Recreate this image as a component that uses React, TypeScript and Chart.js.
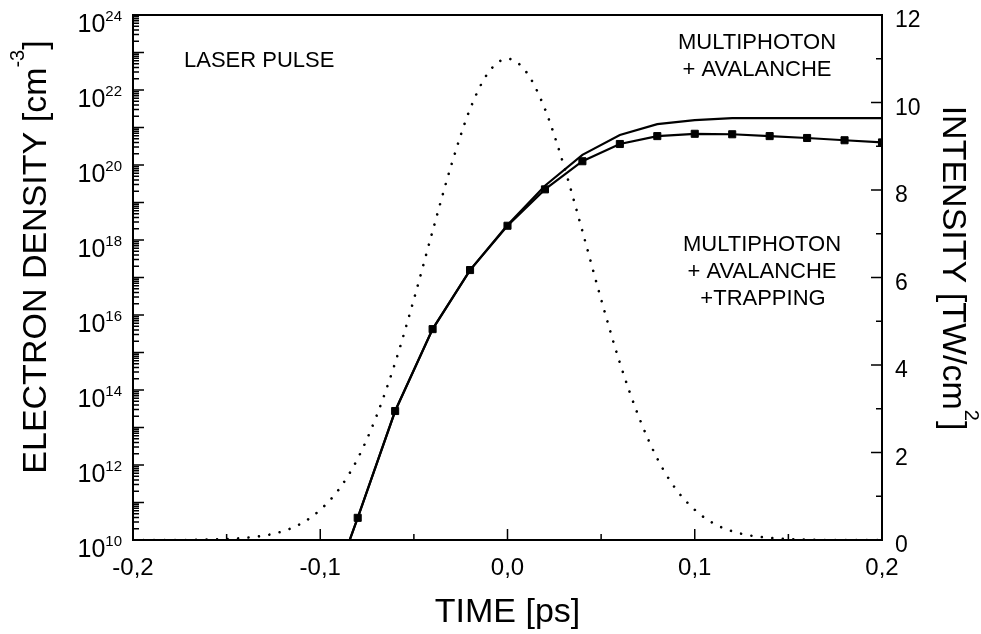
import React, { useEffect, useRef } from 'react';
import { Chart, registerables } from 'chart.js';

Chart.register(...registerables);

// Laser pulse intensity [TW/cm^2] (dotted, right axis)
const pulseTime = [
  -0.2, -0.19, -0.18, -0.17, -0.16, -0.15, -0.14, -0.13, -0.12, -0.11, -0.1,
  -0.09, -0.08, -0.07, -0.06, -0.05, -0.04, -0.03, -0.02, -0.01, 0,
  0.01, 0.02, 0.03, 0.04, 0.05, 0.06, 0.07, 0.08, 0.09, 0.1,
  0.11, 0.12, 0.13, 0.14, 0.15, 0.16, 0.17, 0.18, 0.19, 0.2,
];
const pulseIntensity = [
  0, 0, 0, 0, 0.01, 0.02, 0.05, 0.1, 0.2, 0.38, 0.69,
  1.16, 1.86, 2.83, 4.05, 5.5, 7.06, 8.57, 9.85, 10.7, 11,
  10.7, 9.85, 8.57, 7.06, 5.5, 4.05, 2.83, 1.86, 1.16, 0.69,
  0.38, 0.2, 0.1, 0.05, 0.02, 0.01, 0, 0, 0, 0,
];

// Electron density [cm^-3] (left, log axis)
const densityTime = [
  -0.09, -0.08, -0.06, -0.04, -0.02, 0, 0.02, 0.04, 0.06, 0.08, 0.1, 0.12, 0.14, 0.16, 0.18, 0.2,
];
const densityAvalanche = [
  1.6e9, 3.9e10, 2.75e13, 4.2e15, 1.58e17, 2.5e18, 2.8e19, 1.86e20, 6.3e20, 1.23e21, 1.58e21,
  1.78e21, 1.78e21, 1.78e21, 1.78e21, 1.78e21,
];
const densityTrapping = [
  1.6e9, 3.9e10, 2.75e13, 4.2e15, 1.58e17, 2.4e18, 2.24e19, 1.26e20, 3.63e20, 5.9e20, 6.8e20,
  6.6e20, 5.9e20, 5.25e20, 4.57e20, 4.0e20,
];

// Tick label values
const xTickValues = [-0.2, -0.1, 0, 0.1, 0.2];
const leftTickExponents = [10, 12, 14, 16, 18, 20, 22, 24];
const rightTickValues = [0, 2, 4, 6, 8, 10, 12];

const FONT = '"Liberation Sans", Arial, Helvetica, sans-serif';

type Part = { t: string; s: number; rise?: number };

function measureParts(ctx: CanvasRenderingContext2D, parts: Part[]) {
  let w = 0;
  for (const p of parts) {
    ctx.font = `${p.s}px ${FONT}`;
    w += ctx.measureText(p.t).width;
  }
  return w;
}

function drawParts(ctx: CanvasRenderingContext2D, parts: Part[], x: number, y: number) {
  let cx = x;
  ctx.textAlign = 'left';
  ctx.textBaseline = 'alphabetic';
  for (const p of parts) {
    ctx.font = `${p.s}px ${FONT}`;
    ctx.fillText(p.t, cx, y - (p.rise || 0));
    cx += ctx.measureText(p.t).width;
  }
}

const decorPlugin = {
  id: 'decor',
  afterDraw(chart: any) {
    const { ctx, chartArea: a, scales } = chart;
    const sx = scales.x;
    const sy = scales.y;
    const sy2 = scales.y2;
    ctx.save();
    ctx.strokeStyle = '#000';
    ctx.fillStyle = '#000';

    // frame
    ctx.lineWidth = 2;
    ctx.strokeRect(a.left, a.top, a.right - a.left, a.bottom - a.top);

    ctx.lineWidth = 1.5;
    ctx.beginPath();
    // x ticks (inward)
    const xt = sx.ticks.map((t: any) => t.value);
    for (let i = 0; i < xt.length; i++) {
      const px = sx.getPixelForValue(xt[i]);
      ctx.moveTo(px, a.bottom);
      ctx.lineTo(px, a.bottom - 11);
      if (i < xt.length - 1) {
        const pm = sx.getPixelForValue((xt[i] + xt[i + 1]) / 2);
        ctx.moveTo(pm, a.bottom);
        ctx.lineTo(pm, a.bottom - 6);
      }
    }
    // right ticks
    const rt = sy2.ticks.map((t: any) => t.value);
    for (let i = 0; i < rt.length; i++) {
      const py = sy2.getPixelForValue(rt[i]);
      ctx.moveTo(a.right, py);
      ctx.lineTo(a.right - 11, py);
      if (i < rt.length - 1) {
        const pm = sy2.getPixelForValue((rt[i] + rt[i + 1]) / 2);
        ctx.moveTo(a.right, pm);
        ctx.lineTo(a.right - 6, pm);
      }
    }
    // left log ticks
    const eMin = Math.round(Math.log10(sy.min));
    const eMax = Math.round(Math.log10(sy.max));
    for (let e = eMin; e <= eMax; e++) {
      const py = sy.getPixelForValue(Math.pow(10, e));
      ctx.moveTo(a.left, py);
      ctx.lineTo(a.left + 11, py);
      if (e < eMax) {
        for (let m = 2; m <= 9; m++) {
          const pm = sy.getPixelForValue(m * Math.pow(10, e));
          ctx.moveTo(a.left, pm);
          ctx.lineTo(a.left + 6, pm);
        }
      }
    }
    ctx.stroke();

    // x tick labels
    ctx.font = `24px ${FONT}`;
    ctx.textAlign = 'center';
    ctx.textBaseline = 'alphabetic';
    for (const v of xTickValues) {
      const vv = Math.abs(v) < 1e-9 ? 0 : v;
      ctx.fillText(vv.toFixed(1).replace('.', ','), sx.getPixelForValue(vv), a.bottom + 35);
    }
    // right tick labels
    ctx.font = `23px ${FONT}`;
    ctx.textAlign = 'left';
    for (const v of rightTickValues) {
      ctx.fillText(String(v), a.right + 13, sy2.getPixelForValue(v) + 12);
    }
    // left tick labels 10^n
    for (const e of leftTickExponents) {
      const py = sy.getPixelForValue(Math.pow(10, e));
      const parts: Part[] = [
        { t: '10', s: 25 },
        { t: String(e), s: 15, rise: 11 },
      ];
      const w = measureParts(ctx, parts);
      drawParts(ctx, parts, 122 - w, py + 17);
    }

    // axis titles
    const xt2: Part[] = [{ t: 'TIME [ps]', s: 34 }];
    const wx = measureParts(ctx, xt2);
    drawParts(ctx, xt2, (a.left + a.right) / 2 - wx / 2, 622);

    const lt: Part[] = [
      { t: 'ELECTRON DENSITY [cm', s: 34 },
      { t: '-3', s: 20, rise: 22 },
      { t: ']', s: 34 },
    ];
    const wl = measureParts(ctx, lt);
    ctx.save();
    ctx.translate(46, 257);
    ctx.rotate(-Math.PI / 2);
    drawParts(ctx, lt, -wl / 2, 0);
    ctx.restore();

    const rtt: Part[] = [
      { t: 'INTENSITY [TW/cm', s: 34 },
      { t: '2', s: 20, rise: 22 },
      { t: ']', s: 34 },
    ];
    const wr = measureParts(ctx, rtt);
    ctx.save();
    ctx.translate(943, 268);
    ctx.rotate(Math.PI / 2);
    drawParts(ctx, rtt, -wr / 2, 0);
    ctx.restore();

    // annotations
    ctx.font = `22px ${FONT}`;
    ctx.textAlign = 'left';
    ctx.fillText('LASER PULSE', 184, 67);
    ctx.textAlign = 'center';
    ctx.fillText('MULTIPHOTON', 757, 49);
    ctx.fillText('+ AVALANCHE', 757, 76);
    ctx.fillText('MULTIPHOTON', 762, 251);
    ctx.fillText('+ AVALANCHE', 762, 278);
    ctx.fillText('+TRAPPING', 763, 305);

    ctx.restore();
  },
};

export default function App() {
  const ref = useRef<HTMLCanvasElement>(null);
  useEffect(() => {
    document.body.style.margin = '0';
    document.body.style.overflow = 'hidden';
    const canvas = ref.current!;
    const chart = new Chart(canvas, {
      type: 'line',
      data: {
        datasets: [
          {
            label: 'LASER PULSE',
            data: pulseTime.map((t, i) => ({ x: t, y: pulseIntensity[i] })),
            yAxisID: 'y2',
            borderColor: '#000',
            borderWidth: 2.6,
            borderDash: [0.01, 10.5],
            borderCapStyle: 'round',
            pointRadius: 0,
            cubicInterpolationMode: 'monotone',
            fill: false,
          },
          {
            label: 'MULTIPHOTON + AVALANCHE',
            data: densityTime.map((t, i) => ({ x: t, y: densityAvalanche[i] })),
            yAxisID: 'y',
            borderColor: '#000',
            borderWidth: 2.2,
            pointRadius: 0,
            tension: 0,
            fill: false,
          },
          {
            label: 'MULTIPHOTON + AVALANCHE + TRAPPING',
            data: densityTime.map((t, i) => ({ x: t, y: densityTrapping[i] })),
            yAxisID: 'y',
            borderColor: '#000',
            borderWidth: 2.2,
            pointStyle: 'rect',
            pointRadius: (c: any) => (c.dataIndex === 0 ? 0 : 5),
            pointBackgroundColor: '#000',
            pointBorderColor: '#000',
            pointBorderWidth: 1,
            tension: 0,
            fill: false,
          },
        ],
      },
      options: {
        responsive: false,
        animation: false,
        devicePixelRatio: 1,
        events: [],
        layout: { padding: { top: 15, left: 0, right: 0, bottom: 0 } },
        plugins: { legend: { display: false }, tooltip: { enabled: false } },
        scales: {
          x: {
            type: 'linear',
            min: -0.2,
            max: 0.2,
            ticks: { display: false, stepSize: 0.1 },
            grid: { display: false, drawTicks: false },
            border: { display: false },
            afterFit: (s: any) => {
              s.height = 94;
            },
          },
          y: {
            type: 'logarithmic',
            position: 'left',
            min: 1e10,
            max: 1e24,
            ticks: { display: false },
            grid: { display: false, drawTicks: false },
            border: { display: false },
            afterFit: (s: any) => {
              s.width = 133;
            },
          },
          y2: {
            type: 'linear',
            position: 'right',
            min: 0,
            max: 12,
            ticks: { display: false, stepSize: 2 },
            grid: { display: false, drawTicks: false },
            border: { display: false },
            afterFit: (s: any) => {
              s.width = 99;
            },
          },
        },
      } as any,
      plugins: [decorPlugin],
    });
    return () => chart.destroy();
  }, []);
  return (
    <canvas
      ref={ref}
      width={981}
      height={634}
      style={{ display: 'block', width: 981, height: 634, background: '#fff' }}
    />
  );
}
